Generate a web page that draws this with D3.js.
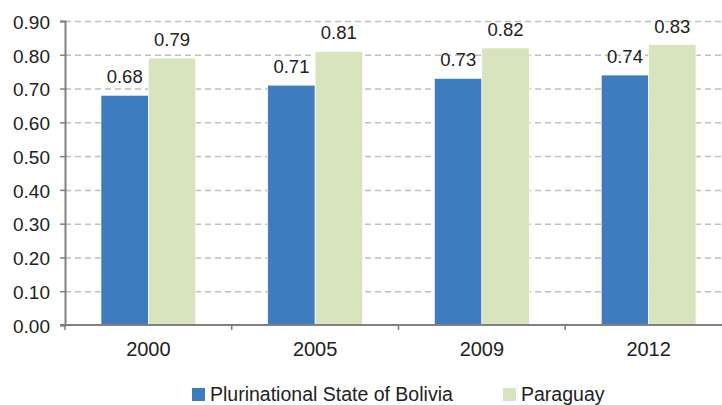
<!DOCTYPE html>
<html><head><meta charset="utf-8">
<script src="https://cdn.jsdelivr.net/npm/d3@7"></script>
<style>body{margin:0;background:#fff}svg{display:block}text{font-family:"Liberation Sans",Arial,sans-serif;fill:#222}</style>
</head><body><svg id="c" width="722" height="405"></svg>
<script>
const categories = ["2000","2005","2009","2012"];
const seriesNames = ["Plurinational State of Bolivia","Paraguay"];
const bolivia = [0.68,0.71,0.73,0.74];
const paraguay = [0.79,0.81,0.82,0.83];
const yTicks = [0,0.1,0.2,0.3,0.4,0.5,0.6,0.7,0.8,0.9];
const colors = ["#3F7BBF","#D7E4BD"];

const svg = d3.select("#c");
const x0 = 65, x1 = 732, yTop = 21, yBot = 325;
const x = d3.scaleBand().domain(categories).range([x0,x1]).paddingInner(0).paddingOuter(0);
const y = d3.scaleLinear().domain([0,0.9]).range([yBot,yTop]);
const inner = d3.scaleBand().domain(seriesNames).range([0,x.bandwidth()]).paddingOuter(0.76).paddingInner(0);

// grid
svg.append("g").selectAll("line").data(yTicks.filter(d=>d>0)).join("line")
  .attr("x1",x0).attr("x2",722).attr("y1",d=>y(d)+0.5).attr("y2",d=>y(d)+0.5)
  .attr("stroke","#BFBFBF").attr("stroke-width",1.5).attr("stroke-dasharray","6,4");

const series = [bolivia, paraguay];
series.forEach((vals,si)=>{
  const g = svg.append("g");
  g.selectAll("rect").data(vals).join("rect")
    .attr("x",(d,i)=>x(categories[i])+inner(seriesNames[si]))
    .attr("width",inner.bandwidth())
    .attr("y",d=>y(d)).attr("height",d=>yBot-y(d))
    .attr("fill",colors[si]).attr("stroke","#fff").attr("stroke-width",0.6);
  g.selectAll("text").data(vals).join("text")
    .attr("x",(d,i)=>x(categories[i])+inner(seriesNames[si])+inner.bandwidth()/2)
    .attr("y",d=>y(d)-12)
    .attr("text-anchor","middle").style("font-size","18.5px")
    .text(d=>d.toFixed(2));
});

// y axis
const ya = svg.append("g").attr("transform",`translate(${x0},0)`)
  .call(d3.axisLeft(y).tickValues(yTicks).tickFormat(d3.format(".2f")).tickSize(5).tickPadding(10));
ya.attr("font-size",null).attr("font-family",null);
ya.select(".domain").attr("stroke","#808080").attr("stroke-width",2);
ya.selectAll(".tick line").attr("stroke","#808080").attr("stroke-width",1.5);
ya.selectAll("text").style("font-size","19px").attr("fill","#222").attr("dy","0.38em");

// x axis
const xa = svg.append("g").attr("transform",`translate(0,${yBot})`)
  .call(d3.axisBottom(x).tickSize(0).tickPadding(17));
xa.attr("font-size",null).attr("font-family",null);
xa.select(".domain").remove();
xa.selectAll("text").style("font-size","20px").attr("fill","#222");
svg.append("line").attr("x1",x0-5).attr("x2",722).attr("y1",yBot).attr("y2",yBot).attr("stroke","#808080").attr("stroke-width",2);
svg.append("g").selectAll("line").data(categories.concat(["end"])).join("line")
  .attr("x1",(d,i)=>x0+i*x.bandwidth()).attr("x2",(d,i)=>x0+i*x.bandwidth())
  .attr("y1",yBot).attr("y2",yBot+5).attr("stroke","#808080").attr("stroke-width",1.5);

// legend
const legX = [192, 503];
const lg = svg.append("g");
seriesNames.forEach((n,i)=>{
  lg.append("rect").attr("x",legX[i]).attr("y",388).attr("width",13).attr("height",13).attr("fill",colors[i]);
  lg.append("text").attr("x",legX[i]+18).attr("y",401).style("font-size","19.5px").text(n);
});
</script></body></html>
